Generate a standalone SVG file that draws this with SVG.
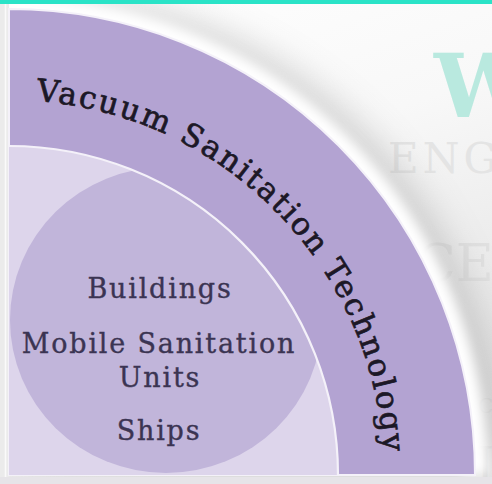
<svg xmlns="http://www.w3.org/2000/svg" width="492" height="484" viewBox="0 0 492 484">
  <defs>
    <linearGradient id="bgShade" x1="0" y1="0" x2="0.35" y2="1">
      <stop offset="0" stop-color="#ffffff"/>
      <stop offset="0.45" stop-color="#f8f8f8"/>
      <stop offset="1" stop-color="#e3e3e3"/>
    </linearGradient>
    <filter id="softShadow" x="-20%" y="-20%" width="140%" height="140%">
      <feGaussianBlur stdDeviation="18"/>
    </filter>
    <filter id="glow" x="-20%" y="-20%" width="140%" height="140%">
      <feGaussianBlur stdDeviation="6"/>
    </filter>
    <clipPath id="innerClip">
      <path d="M9,475 L9,146 A329,329 0 0 1 338,475 Z"/>
    </clipPath>
    <path id="bandArc" d="M9,100 A375,375 0 0 1 384,475"/>
    <style>
      .mark { font-family: "DejaVu Serif", "Liberation Serif", serif; }
      .inner { font-family: "DejaVu Serif", "Liberation Serif", serif; font-size: 27px; fill: #3b3452; stroke: #3b3452; stroke-width: 0.35; text-anchor: middle; letter-spacing: 1.8px; }
      .bandText { font-family: "DejaVu Serif", "Liberation Serif", serif; font-size: 31px; fill: #1c1826; stroke: #1c1826; stroke-width: 0.7; letter-spacing: 2px; }
    </style>
  </defs>

  <!-- page background -->
  <rect width="492" height="484" fill="url(#bgShade)"/>

  <!-- faint background lettering -->
  <g id="watermark" class="mark">
    <text x="434" y="117" font-size="88" font-weight="bold" fill="#b9e9df">W</text>
    <text x="388" y="173" font-size="42" fill="#e4e4e4" letter-spacing="4">ENG</text>
    <text x="416" y="281" font-size="52" fill="#e0e0e0">CE</text>
    <text x="478" y="413" font-size="20" fill="#d9d9d9">C</text>
    <text x="476" y="480" font-size="46" fill="#d6d6d6">I</text>
  </g>

  <!-- shadow and glow around the outer quarter disc -->
  <path d="M9,475 L9,9 A466,466 0 0 1 475,475 Z" transform="translate(26,-14)" fill="#9e9e9e" opacity="0.45" filter="url(#softShadow)"/>
  <path d="M9,9 A466,466 0 0 1 475,475" fill="none" stroke="#ffffff" stroke-width="26" filter="url(#glow)"/>

  <!-- side and bottom strips -->
  <rect x="0" y="3" width="9" height="481" fill="#ebebeb"/>
  <line x1="5.5" y1="3" x2="5.5" y2="484" stroke="#fafafa" stroke-width="1.5"/>
  <rect x="0" y="477" width="492" height="7" fill="#e6e4e8"/>

  <!-- top accent bar -->
  <rect x="0" y="0" width="492" height="4" fill="#2ae3c7"/>

  <!-- outer band -->
  <g id="vacuum-sanitation-technology">
    <path d="M9,475 L9,9 A466,466 0 0 1 475,475 Z" fill="#b3a3d2" stroke="#f4f1f9" stroke-width="2"/>
    <text class="bandText"><textPath href="#bandArc" startOffset="27">Vacuum Sanitation Technology</textPath></text>
  </g>

  <!-- inner quarter disc -->
  <g id="applications-area">
    <path d="M9,475 L9,146 A329,329 0 0 1 338,475 Z" fill="#ddd5eb"/>
    <ellipse cx="166" cy="320" rx="156" ry="153" fill="#c1b5da" clip-path="url(#innerClip)"/>
    <path d="M9,146 A329,329 0 0 1 338,475" fill="none" stroke="#f4f1f9" stroke-width="2.2"/>
  </g>

  <!-- application labels -->
  <g id="applications">
    <text class="inner" x="160" y="298">Buildings</text>
    <text class="inner" x="159" y="353">Mobile Sanitation</text>
    <text class="inner" x="160" y="387">Units</text>
    <text class="inner" x="159" y="440">Ships</text>
  </g>
</svg>
